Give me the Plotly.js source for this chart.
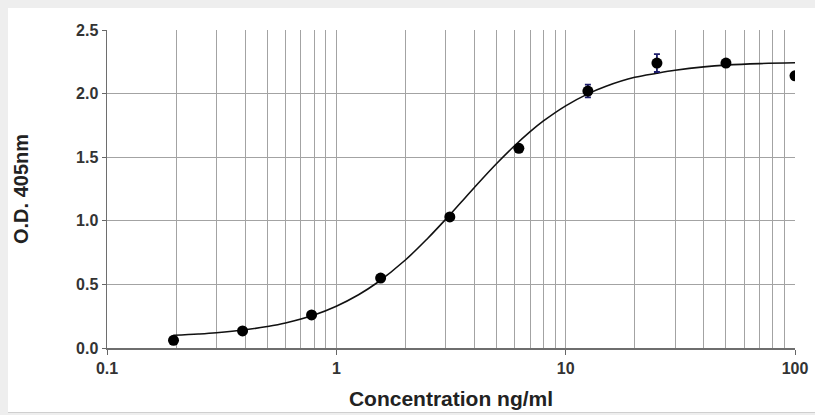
<!DOCTYPE html>
<html>
<head>
<meta charset="utf-8">
<script src="https://cdn.plot.ly/plotly-3.0.1.min.js"></script>
<style>
  html, body { margin: 0; padding: 0; background: #eeeeee; width: 815px; height: 415px; overflow: hidden; }
  #wrap { position: absolute; left: 8px; top: 8px; width: 807px; height: 404px; background: #ffffff; border-bottom: 1px solid #cfcfcf; }
  #chart { width: 807px; height: 404px; }
</style>
</head>
<body>
<div id="wrap"><div id="chart"></div></div>
<script>
// Measured points (concentration ng/ml, O.D. 405nm, error)
const concentration = [0.195, 0.39, 0.78, 1.56, 3.125, 6.25, 12.5, 25, 50, 100];
const odValues      = [0.06, 0.134, 0.26, 0.55, 1.03, 1.57, 2.02, 2.24, 2.24, 2.14];
const odErrors      = [0.01, 0.01, 0.01, 0.01, 0.015, 0.015, 0.05, 0.07, 0.02, 0.01];

// Fitted curve
const curveX = [0.195, 0.25, 0.3, 0.4, 0.5, 0.6, 0.8, 1, 1.25, 1.5, 2, 2.5, 3, 3.5, 4, 5, 6, 7, 8, 10, 12.5, 15, 20, 25, 30, 40, 50, 70, 100];
const curveY = [0.100, 0.110, 0.120, 0.143, 0.169, 0.197, 0.260, 0.329, 0.419, 0.511, 0.692, 0.861, 1.012, 1.146, 1.262, 1.450, 1.592, 1.701, 1.785, 1.904, 1.998, 2.058, 2.128, 2.160, 2.183, 2.210, 2.224, 2.236, 2.242];

// Axis ticks
const xTickVals = [0.1, 1, 10, 100];
const xTickText = ['0.1', '1', '10', '100'];
const xMinorVals = [0.2,0.3,0.4,0.5,0.6,0.7,0.8,0.9, 2,3,4,5,6,7,8,9, 20,30,40,50,60,70,80,90];
const yTickVals = [0, 0.5, 1.0, 1.5, 2.0, 2.5];
const yTickText = ['0.0', '0.5', '1.0', '1.5', '2.0', '2.5'];

const fontFam = 'Liberation Sans, Arial, sans-serif';

const traces = [
  {
    x: curveX, y: curveY, type: 'scatter', mode: 'lines',
    line: { color: '#111111', width: 1.6, shape: 'spline' },
    hoverinfo: 'skip', showlegend: false
  },
  {
    x: concentration, y: odValues, type: 'scatter', mode: 'markers',
    marker: { color: '#000000', size: 11 },
    error_y: { type: 'data', array: odErrors, visible: true, color: '#1c1c6a', thickness: 1.8, width: 3 },
    showlegend: false
  }
];

const layout = {
  width: 807, height: 404,
  margin: { l: 99, r: 20, t: 22, b: 64 },
  paper_bgcolor: '#ffffff', plot_bgcolor: '#ffffff',
  font: { family: fontFam, color: '#333333' },
  xaxis: {
    type: 'log', range: [-1, 2],
    tickmode: 'array', tickvals: xTickVals, ticktext: xTickText,
    ticks: 'outside', ticklen: 5, tickcolor: '#666666', tickwidth: 1,
    showgrid: true, gridcolor: '#a3a3a3', gridwidth: 1,
    minor: { tickmode: 'array', tickvals: xMinorVals, showgrid: true, gridcolor: '#a3a3a3', gridwidth: 1, ticks: '' },
    showline: true, linecolor: '#6e6e6e', linewidth: 1.5,
    zeroline: false,
    tickfont: { family: fontFam, size: 16, color: '#333333', weight: 'bold' },
    title: { text: '<b>Concentration ng/ml</b>', font: { family: fontFam, size: 21, color: '#222222' }, standoff: 15 }
  },
  yaxis: {
    range: [0, 2.5],
    tickmode: 'array', tickvals: yTickVals, ticktext: yTickText,
    ticks: 'outside', ticklen: 4, tickcolor: '#666666', tickwidth: 1,
    showgrid: true, gridcolor: '#a3a3a3', gridwidth: 1,
    showline: true, linecolor: '#6e6e6e', linewidth: 1.5,
    zeroline: false,
    tickfont: { family: fontFam, size: 16, color: '#333333', weight: 'bold' },
    title: { text: '<b>O.D. 405nm</b>', font: { family: fontFam, size: 20, color: '#222222' }, standoff: 42 }
  }
};

Plotly.newPlot('chart', traces, layout, { displayModeBar: false, staticPlot: true });
</script>
</body>
</html>
